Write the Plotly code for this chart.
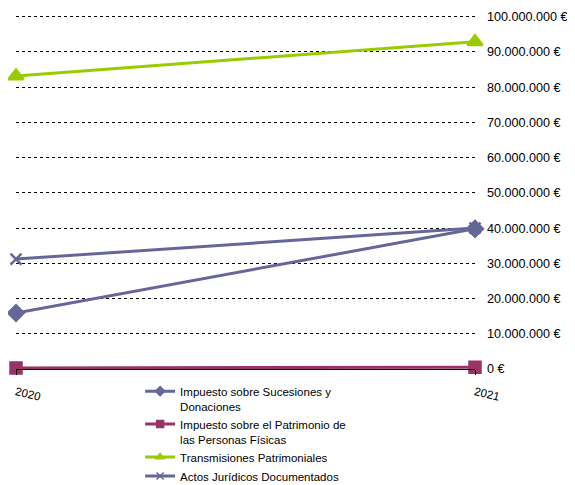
import plotly.graph_objects as go

years = [2020, 2021]
year_labels = ["2020", "2021"]

sucesiones = [15900000, 39800000]
patrimonio = [300000, 500000]
transmisiones = [83200000, 92900000]
actos_juridicos = [31200000, 40000000]

series = [
    ("Impuesto sobre Sucesiones y<br>Donaciones", sucesiones, "#666699", "diamond", 12),
    ("Impuesto sobre el Patrimonio de<br>las Personas Físicas", patrimonio, "#993366", "square", 11),
    ("Transmisiones Patrimoniales", transmisiones, "#99CC00", "triangle-up", 13),
    ("Actos Jurídicos Documentados", actos_juridicos, "#666699", "x-thin-open", 11),
]

fig = go.Figure()

for name, values, color, symbol, size in series:
    # la serie real, sin entrada en la leyenda
    fig.add_trace(
        go.Scatter(
            x=years,
            y=values,
            mode="lines+markers",
            name=name,
            showlegend=False,
            line=dict(color=color, width=3),
            marker=dict(
                symbol=symbol,
                size=size,
                color=color,
                line=dict(color=color, width=2.5),
            ),
            cliponaxis=False,
        )
    )
    # entrada de leyenda con marcador pequeño
    fig.add_trace(
        go.Scatter(
            x=[None],
            y=[None],
            mode="lines+markers",
            name=name,
            line=dict(color=color, width=3),
            marker=dict(
                symbol=symbol,
                size=7,
                color=color,
                line=dict(color=color, width=1.5),
            ),
        )
    )

fig.update_layout(
    width=567,
    height=477,
    margin=dict(l=8, r=100, t=7, b=116, autoexpand=False),
    paper_bgcolor="white",
    plot_bgcolor="white",
    separators=",.",
    font=dict(family="Liberation Sans, Arial, sans-serif", size=12, color="#000000"),
    showlegend=True,
    legend=dict(
        xref="container",
        yref="container",
        x=0.233,
        y=0.226,
        xanchor="left",
        yanchor="top",
        valign="top",
        font=dict(size=11.5),
        tracegroupgap=0,
        itemwidth=30,
    ),
)

fig.update_xaxes(
    range=[2020, 2021],
    tickvals=years,
    ticktext=year_labels,
    tickangle=14,
    ticks="outside",
    ticklen=5,
    tickcolor="black",
    showgrid=False,
    showline=True,
    linecolor="black",
    linewidth=1,
    zeroline=False,
    automargin=False,
    ticklabelstandoff=6,
    tickfont=dict(size=11.5),
)

# el tope un poco por encima de 100M para que se dibuje la última línea de rejilla
fig.update_yaxes(
    side="right",
    range=[0, 100500000],
    tick0=0,
    dtick=10000000,
    tickformat=",.0f",
    ticksuffix=" €",
    showgrid=True,
    gridcolor="black",
    griddash="dot",
    gridwidth=1,
    zeroline=False,
    showline=False,
    automargin=False,
    ticklabelstandoff=11,
    tickfont=dict(size=12.6),
)

fig.write_html("out.html")
